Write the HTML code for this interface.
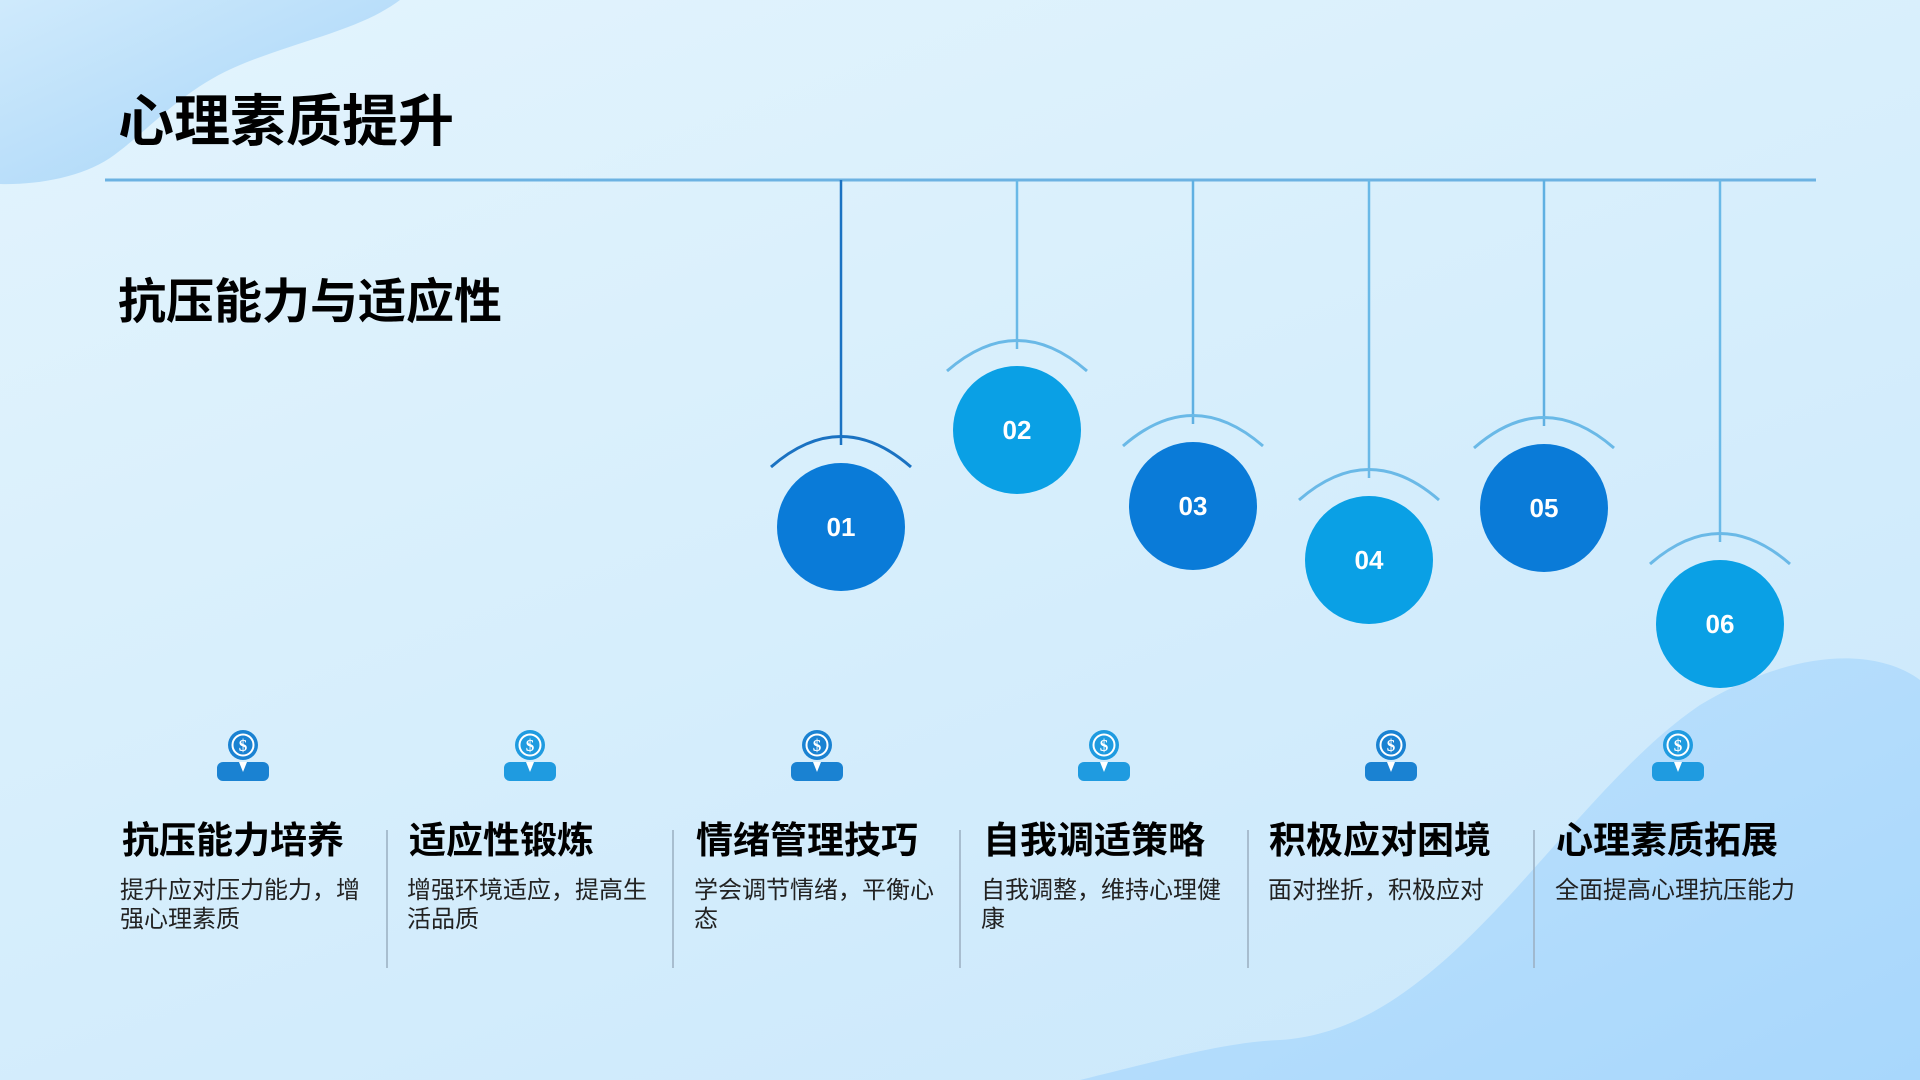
<!DOCTYPE html>
<html><head><meta charset="utf-8">
<style>
html,body{margin:0;padding:0;}
body{width:1920px;height:1080px;overflow:hidden;position:relative;font-family:"Liberation Sans","Noto Sans CJK SC",sans-serif;background:linear-gradient(160deg,#e3f4fd 0%,#d6eefc 50%,#c9e7fb 100%);}
svg{position:absolute;left:0;top:0;}
.t{position:absolute;font-weight:bold;color:#000;white-space:nowrap;}
.d{position:absolute;font-size:24px;color:#222;line-height:29px;width:250px;}
</style></head><body>
<svg width="1920" height="1080" viewBox="0 0 1920 1080">
<defs>
<linearGradient id="bl" x1="0" y1="0" x2="1" y2="1"><stop offset="0" stop-color="#cfeafc"/><stop offset="1" stop-color="#a4d3f7"/></linearGradient>
<linearGradient id="wv" x1="0" y1="0" x2="1" y2="1"><stop offset="0" stop-color="#bfe2fd"/><stop offset="1" stop-color="#a8d7fc"/></linearGradient>
</defs>
<path d="M0 0 L400 0 C360 30 300 40 240 65 C180 90 150 130 110 158 C80 178 35 185 0 184 Z" fill="url(#bl)"/>
<path d="M1080 1080 C1180 1055 1230 1042 1280 1040 C1450 1030 1560 800 1700 705 C1800 645 1880 650 1920 680 L1920 1080 Z" fill="url(#wv)"/>
<line x1="105" y1="180" x2="1816" y2="180" stroke="#6cb2e2" stroke-width="3"/>
<g fill="none" stroke-width="2.5">
<line x1="841" y1="180" x2="841" y2="445" stroke="#1a72c2"/>
<line x1="1017" y1="180" x2="1017" y2="349" stroke="#6ab9e7"/>
<line x1="1193" y1="180" x2="1193" y2="424" stroke="#5fb0e2"/>
<line x1="1369" y1="180" x2="1369" y2="478" stroke="#6ab9e7"/>
<line x1="1544" y1="180" x2="1544" y2="426" stroke="#5fb0e2"/>
<line x1="1720" y1="180" x2="1720" y2="542" stroke="#6ab9e7"/>
</g>
<g fill="none" stroke-width="3">
<path d="M771 467 Q841 406 911 467" stroke="#1a72c2"/>
<path d="M947 371 Q1017 310 1087 371" stroke="#6ab9e7"/>
<path d="M1123 446 Q1193 385 1263 446" stroke="#6ab9e7"/>
<path d="M1299 500 Q1369 439 1439 500" stroke="#6ab9e7"/>
<path d="M1474 448 Q1544 387 1614 448" stroke="#6ab9e7"/>
<path d="M1650 564 Q1720 503 1790 564" stroke="#6ab9e7"/>
</g>
<g font-family="Liberation Sans" font-weight="bold" font-size="26" fill="#fff" text-anchor="middle">
<circle cx="841" cy="527" r="64" fill="#0a7bd8"/><text x="841" y="536">01</text>
<circle cx="1017" cy="430" r="64" fill="#0aa0e5"/><text x="1017" y="439">02</text>
<circle cx="1193" cy="506" r="64" fill="#0a7bd8"/><text x="1193" y="515">03</text>
<circle cx="1369" cy="560" r="64" fill="#0aa0e5"/><text x="1369" y="569">04</text>
<circle cx="1544" cy="508" r="64" fill="#0a7bd8"/><text x="1544" y="517">05</text>
<circle cx="1720" cy="624" r="64" fill="#0aa0e5"/><text x="1720" y="633">06</text>
</g>
<g stroke="#9aaec0" stroke-width="1.5">
<line x1="387" y1="830" x2="387" y2="968"/>
<line x1="673" y1="830" x2="673" y2="968"/>
<line x1="960" y1="830" x2="960" y2="968"/>
<line x1="1248" y1="830" x2="1248" y2="968"/>
<line x1="1534" y1="830" x2="1534" y2="968"/>
</g>
<g font-family="Liberation Serif" font-weight="bold" text-anchor="middle">
<g transform="translate(243,0)"><circle cx="0" cy="745" r="15" fill="#1a82d2"/><circle cx="0" cy="745" r="10.5" fill="none" stroke="#fff" stroke-width="2"/><text x="0" y="751" fill="#fff" font-size="17">$</text><rect x="-26" y="762" width="52" height="19" rx="6" fill="#1a82d2"/><path d="M-4 762 L0 772 L4 762 Z" fill="#fff"/></g>
<g transform="translate(530,0)"><circle cx="0" cy="745" r="15" fill="#1f9be0"/><circle cx="0" cy="745" r="10.5" fill="none" stroke="#fff" stroke-width="2"/><text x="0" y="751" fill="#fff" font-size="17">$</text><rect x="-26" y="762" width="52" height="19" rx="6" fill="#1f9be0"/><path d="M-4 762 L0 772 L4 762 Z" fill="#fff"/></g>
<g transform="translate(817,0)"><circle cx="0" cy="745" r="15" fill="#1a82d2"/><circle cx="0" cy="745" r="10.5" fill="none" stroke="#fff" stroke-width="2"/><text x="0" y="751" fill="#fff" font-size="17">$</text><rect x="-26" y="762" width="52" height="19" rx="6" fill="#1a82d2"/><path d="M-4 762 L0 772 L4 762 Z" fill="#fff"/></g>
<g transform="translate(1104,0)"><circle cx="0" cy="745" r="15" fill="#1f9be0"/><circle cx="0" cy="745" r="10.5" fill="none" stroke="#fff" stroke-width="2"/><text x="0" y="751" fill="#fff" font-size="17">$</text><rect x="-26" y="762" width="52" height="19" rx="6" fill="#1f9be0"/><path d="M-4 762 L0 772 L4 762 Z" fill="#fff"/></g>
<g transform="translate(1391,0)"><circle cx="0" cy="745" r="15" fill="#1a82d2"/><circle cx="0" cy="745" r="10.5" fill="none" stroke="#fff" stroke-width="2"/><text x="0" y="751" fill="#fff" font-size="17">$</text><rect x="-26" y="762" width="52" height="19" rx="6" fill="#1a82d2"/><path d="M-4 762 L0 772 L4 762 Z" fill="#fff"/></g>
<g transform="translate(1678,0)"><circle cx="0" cy="745" r="15" fill="#1f9be0"/><circle cx="0" cy="745" r="10.5" fill="none" stroke="#fff" stroke-width="2"/><text x="0" y="751" fill="#fff" font-size="17">$</text><rect x="-26" y="762" width="52" height="19" rx="6" fill="#1f9be0"/><path d="M-4 762 L0 772 L4 762 Z" fill="#fff"/></g>
</g>
</svg>
<div class="t" style="left:118px;top:90px;font-size:56px;line-height:64px;">心理素质提升</div>
<div class="t" style="left:118px;top:274px;font-size:48px;line-height:58px;">抗压能力与适应性</div>

<div class="t" style="left:122px;top:819px;font-size:37px;line-height:44px;">抗压能力培养</div>
<div class="d" style="left:120px;top:876px;">提升应对压力能力，增强心理素质</div>
<div class="t" style="left:409px;top:819px;font-size:37px;line-height:44px;">适应性锻炼</div>
<div class="d" style="left:407px;top:876px;">增强环境适应，提高生活品质</div>
<div class="t" style="left:696px;top:819px;font-size:37px;line-height:44px;">情绪管理技巧</div>
<div class="d" style="left:694px;top:876px;">学会调节情绪，平衡心态</div>
<div class="t" style="left:983px;top:819px;font-size:37px;line-height:44px;">自我调适策略</div>
<div class="d" style="left:981px;top:876px;">自我调整，维持心理健康</div>
<div class="t" style="left:1269px;top:819px;font-size:37px;line-height:44px;">积极应对困境</div>
<div class="d" style="left:1268px;top:876px;">面对挫折，积极应对</div>
<div class="t" style="left:1556px;top:819px;font-size:37px;line-height:44px;">心理素质拓展</div>
<div class="d" style="left:1555px;top:876px;">全面提高心理抗压能力</div>
</body></html>
